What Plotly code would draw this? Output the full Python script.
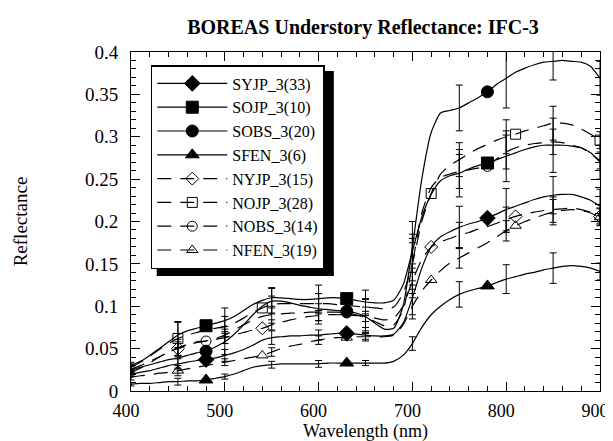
import plotly.graph_objects as go

# ---------------- data ----------------
wavelength = list(range(400, 901, 10))

SYJP = [.020, .022, .024, .027, .030, .032, .034, .036, .037, .039, .042, .045, .049, .054, .060, .063, .064, .065, .065, .066, .066, .067, .068, .068, .067, .066, .065, .065, .067, .080, .110, .145, .170, .182, .188, .193, .197, .200, .204, .209, .214, .218, .222, .226, .229, .231, .232, .232, .229, .225, .218]
SOJP = [.030, .035, .042, .050, .058, .066, .071, .074, .077, .080, .083, .088, .095, .102, .107, .110, .110, .109, .108, .108, .109, .110, .110, .109, .107, .105, .104, .104, .107, .125, .165, .205, .232, .248, .254, .257, .262, .266, .269, .273, .277, .281, .285, .288, .290, .290, .290, .289, .287, .281, .270]
SOBS = [.025, .028, .031, .034, .037, .039, .042, .045, .047, .052, .058, .067, .078, .090, .100, .106, .106, .104, .101, .099, .097, .096, .095, .094, .092, .088, .080, .073, .074, .100, .170, .250, .305, .328, .331, .334, .340, .346, .353, .362, .369, .376, .381, .385, .388, .389, .390, .389, .388, .383, .369]
SFEN = [.008, .009, .009, .010, .011, .011, .012, .012, .013, .015, .017, .020, .024, .028, .030, .031, .032, .032, .032, .032, .032, .033, .033, .033, .033, .033, .033, .033, .035, .042, .056, .075, .090, .100, .108, .114, .118, .121, .124, .128, .132, .135, .138, .140, .143, .145, .147, .148, .147, .145, .141]
NYJP = [.022, .027, .033, .040, .046, .050, .054, .057, .059, .061, .063, .066, .069, .072, .074, .078, .081, .084, .086, .088, .089, .090, .090, .090, .089, .088, .086, .084, .086, .100, .130, .155, .170, .176, .180, .184, .187, .191, .194, .198, .202, .206, .209, .211, .213, .214, .215, .216, .214, .211, .206]
NOJP = [.028, .034, .041, .049, .056, .062, .066, .069, .072, .074, .076, .080, .086, .093, .098, .102, .103, .103, .103, .103, .103, .103, .102, .101, .100, .099, .098, .097, .099, .115, .150, .200, .233, .256, .266, .273, .280, .286, .291, .296, .300, .303, .307, .310, .313, .316, .316, .314, .309, .303, .296]
NOBS = [.026, .030, .035, .040, .046, .051, .055, .058, .059, .062, .066, .072, .078, .084, .088, .090, .091, .092, .092, .093, .093, .093, .093, .092, .090, .087, .082, .077, .078, .095, .150, .210, .240, .252, .256, .259, .261, .263, .265, .274, .282, .287, .290, .292, .293, .294, .293, .290, .287, .280, .272]
NFEN = [.016, .018, .019, .021, .022, .024, .026, .028, .030, .032, .034, .036, .038, .040, .042, .046, .050, .053, .055, .058, .060, .062, .063, .063, .064, .064, .064, .064, .066, .078, .100, .118, .131, .142, .151, .157, .163, .169, .175, .182, .189, .195, .200, .204, .208, .211, .213, .214, .213, .210, .205]

# error-bar half lengths at 400, 450, ..., 900 nm
err_wl = list(range(400, 901, 50))
SYJP_err = [.003, .006, .007, .008, .006, .005, .020, .025, .025, .022, .020]
SOJP_err = [.004, .015, .015, .012, .016, .014, .020, .028, .030, .032, .020]
SOBS_err = [.004, .012, .015, .015, .018, .020, .030, .027, .035, .022, .020]
SFEN_err = [.002, .004, .003, .004, .004, .003, .008, .015, .017, .018, .010]
NYJP_err = [.003, .008, .007, .006, .006, .006, .020, .015, .015, .015, .010]
NOJP_err = [.004, .020, .012, .010, .012, .010, .030, .020, .020, .020, .010]
NOBS_err = [.004, .010, .010, .010, .010, .012, .025, .020, .020, .015, .010]
NFEN_err = [.003, .006, .004, .005, .005, .005, .015, .012, .012, .015, .010]

# wavelengths carrying a symbol
S_marks = [480, 630, 780]
N_marks = [450, 540, 720, 810, 900]
NOBS_marks = [480, 630, 780]
NFEN_marks = [450, 540, 630, 720, 810, 900]

labels = ["SYJP_3(33)", "SOJP_3(10)", "SOBS_3(20)", "SFEN_3(6)",
          "NYJP_3(15)", "NOJP_3(28)", "NOBS_3(14)", "NFEN_3(19)"]

series = [
    (labels[0], SYJP, SYJP_err, "diamond", "solid", S_marks),
    (labels[1], SOJP, SOJP_err, "square", "solid", S_marks),
    (labels[2], SOBS, SOBS_err, "circle", "solid", S_marks),
    (labels[3], SFEN, SFEN_err, "triangle-up", "solid", S_marks),
    (labels[4], NYJP, NYJP_err, "diamond-open", "dash", N_marks),
    (labels[5], NOJP, NOJP_err, "square-open", "dash", N_marks),
    (labels[6], NOBS, NOBS_err, "circle-open", "dash", NOBS_marks),
    (labels[7], NFEN, NFEN_err, "triangle-up-open", "dash", NFEN_marks),
]

FONT = "Liberation Serif, Times New Roman, serif"
DASH = "14px,9px"

def msize(sym):
    return 10 if "open" in sym else 12

fig = go.Figure()
for name, vals, errs, sym, dash, marks in series:
    d = DASH if dash == "dash" else "solid"
    fig.add_trace(go.Scatter(x=wavelength, y=vals, mode="lines", showlegend=False,
                             line=dict(color="black", width=1.2, dash=d, shape="spline", smoothing=0.6),
                             hoverinfo="skip"))
    ei = [wavelength.index(w) for w in err_wl]
    fig.add_trace(go.Scatter(x=err_wl, y=[vals[i] for i in ei], mode="markers", showlegend=False,
                             marker=dict(size=1, color="rgba(0,0,0,0)"),
                             error_y=dict(type="data", array=errs, color="black", thickness=1, width=3.5),
                             hoverinfo="skip"))
    mi = [wavelength.index(w) for w in marks]
    fig.add_trace(go.Scatter(x=marks, y=[vals[i] for i in mi], mode="markers", showlegend=False,
                             marker=dict(symbol=sym, size=msize(sym), color="black",
                                         line=dict(color="black", width=1)),
                             hoverinfo="skip"))

for name, vals, errs, sym, dash, marks in series:
    d = DASH if dash == "dash" else "solid"
    fig.add_trace(go.Scatter(x=[None], y=[None], mode="lines+markers", name=name,
                             line=dict(color="black", width=1.2, dash=d),
                             marker=dict(symbol=sym, size=msize(sym), color="black",
                                         line=dict(color="black", width=1))))

L, R, T, B = 123, 16, 44, 58
W, H = 613, 441
pw, ph = W - L - R, H - T - B

def px2paper(x, y):
    return (x - L) / pw, (H - B - y) / ph

# legend box (pixels, estimated rendered extent) -> drop shadow
lx0, ly0, lx1, ly1 = 143, 57, 322, 262
sx0, sy0 = px2paper(lx0 + 6, ly0 + 6)
sx1, sy1 = px2paper(lx1 + 6, ly1 + 6)
fig.add_shape(type="rect", xref="paper", yref="paper", x0=sx0, x1=sx1, y0=sy1, y1=sy0,
              fillcolor="black", line=dict(color="black", width=0), layer="above")

lpx, lpy = px2paper(lx0, ly0)

axis_common = dict(showline=True, linecolor="black", linewidth=1, mirror="allticks",
                   ticks="inside", ticklen=9, tickcolor="black", tickwidth=1,
                   showgrid=False, zeroline=False)

fig.update_layout(
    width=W, height=H,
    margin=dict(l=L, r=R, t=T, b=B),
    paper_bgcolor="white", plot_bgcolor="white",
    title=dict(text="<b>BOREAS Understory Reflectance: IFC-3</b>", x=355 / W, xanchor="center",
               y=1 - 19 / H, yanchor="middle", font=dict(family=FONT, size=20, color="black")),
    xaxis=dict(range=[400, 900], dtick=100, tick0=400, ticklabelstandoff=3, ticklabelshift=-5,
               ticklabeloverflow="allow",
               tickfont=dict(family=FONT, size=18, color="black"),
               minor=dict(dtick=20, ticks="inside", ticklen=5, tickcolor="black", showgrid=False),
               title=dict(text="Wavelength (nm)", font=dict(family=FONT, size=18, color="black"), standoff=0),
               **axis_common),
    yaxis=dict(range=[0, 0.4], dtick=0.05, tick0=0, ticklabelstandoff=8,
               tickfont=dict(family=FONT, size=19, color="black"),
               minor=dict(dtick=0.01, ticks="inside", ticklen=5, tickcolor="black", showgrid=False),
               title=dict(text="Reflectance", font=dict(family=FONT, size=19, color="black"), standoff=52),
               **axis_common),
    legend=dict(x=lpx, y=lpy, xanchor="left", yanchor="top", bgcolor="white",
                bordercolor="black", borderwidth=1.5,
                font=dict(family=FONT, size=16, color="black"),
                tracegroupgap=0, itemwidth=70),
    showlegend=True,
)

fig.write_html("out.html")
